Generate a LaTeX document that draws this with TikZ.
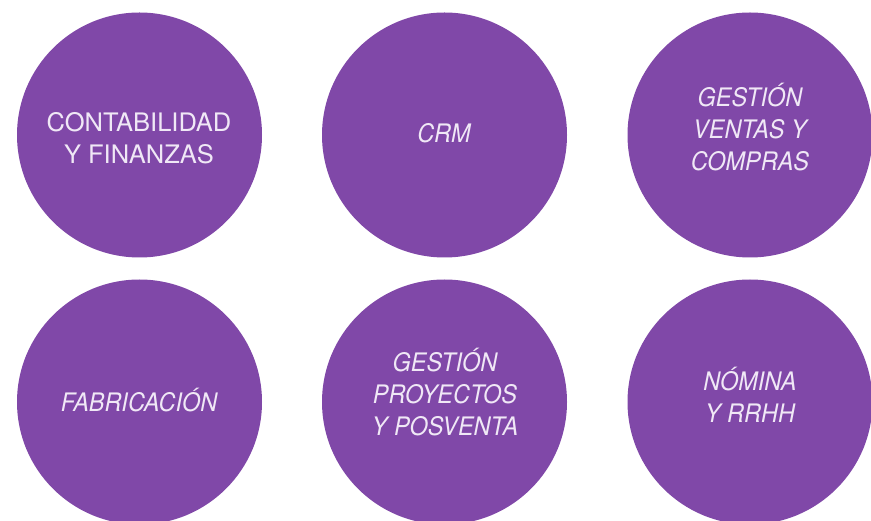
\documentclass[tikz,border=0pt]{standalone}
\usepackage{fontspec}
\setmainfont{TeX Gyre Heros}
\definecolor{modpurple}{RGB}{128,72,168}
\definecolor{modtext}{RGB}{240,232,246}
\begin{document}
\begin{tikzpicture}[x=1pt, y=1pt,
  bubble/.style = {circle, fill=modpurple, minimum size=245pt, inner sep=0pt},
  bubbletext/.style = {text=modtext, align=center, font=\fontsize{25.5}{32}\selectfont},
  bubbleit/.style = {bubbletext, font=\fontsize{25.5}{32}\selectfont\itshape\addfontfeature{FakeStretch=0.92}}]
  \useasboundingbox (0,0) rectangle (871,520);
  \clip (0,0) rectangle (871,520);
  % circles
  \node[bubble] (conta) at (139.5,385) {};
  \node[bubble] (crm)   at (444.5,385) {};
  \node[bubble] (gvc)   at (750,385) {};
  \node[bubble] (fabr)  at (139.5,118) {};
  \node[bubble] (gpp)   at (444.5,118) {};
  \node[bubble] (nomi)  at (750,118) {};
  % labels
  \node[bubbletext] (contaL) at (139,382) {CONTABILIDAD\\Y FINANZAS};
  \node[bubbleit] (crmL)   at (444,387) {CRM};
  \node[bubbleit] (gvcL)   at (750,393) {GESTIÓN\\VENTAS Y\\COMPRAS};
  \node[bubbleit] (fabrL)  at (139,120) {FABRICACIÓN};
  \node[bubbleit] (gppL)   at (445,128) {GESTIÓN\\PROYECTOS\\Y POSVENTA};
  \node[bubbleit] (nomiL)  at (750,125) {NÓMINA\\Y RRHH};
\end{tikzpicture}
\end{document}
